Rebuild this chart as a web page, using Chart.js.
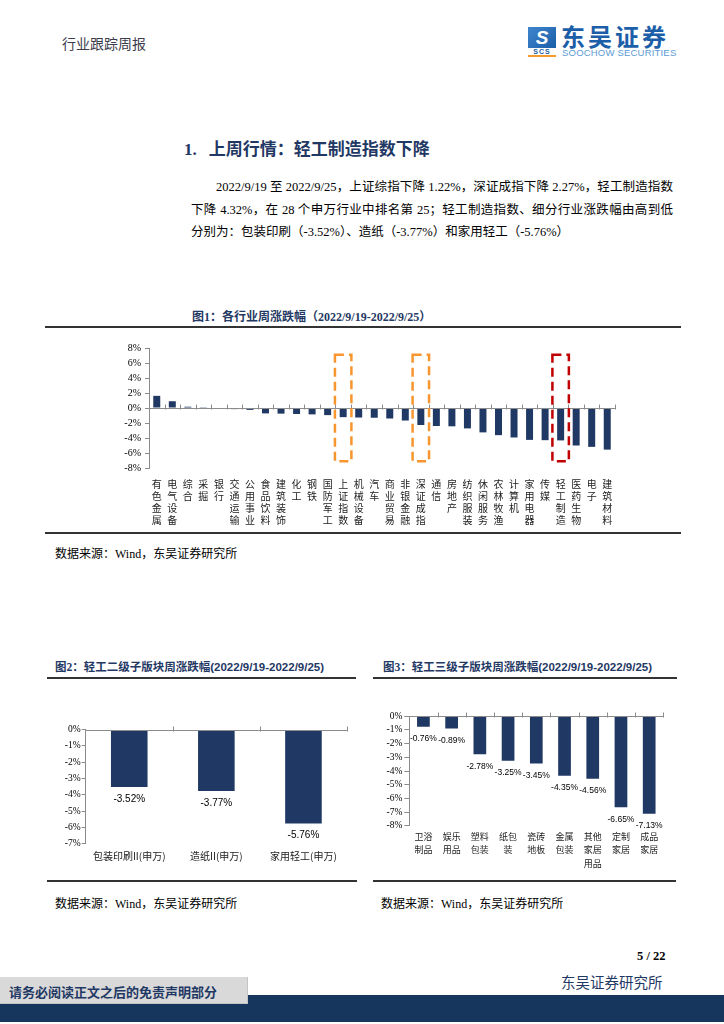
<!DOCTYPE html>
<html>
<head>
<meta charset="utf-8">
<script src="https://cdn.jsdelivr.net/npm/chart.js@4.4.0/dist/chart.umd.min.js"></script>
<style>
body { margin: 0; background: #fff; }
#page { position: relative; width: 724px; height: 1024px; overflow: hidden; font-family: "Liberation Serif", "Noto Sans CJK SC", serif; color: #000; }
.abs { position: absolute; white-space: nowrap; }
.rule { position: absolute; height: 2px; background: #333; }
.navy { color: #1f3864; }
.para { position: absolute; left: 191px; width: 482px; font-size: 12.5px; line-height: 22px; white-space: nowrap; }
.just { text-align: justify; text-align-last: justify; }
.figt { font-size: 12px; font-weight: bold; color: #1f3864; }
.src { font-size: 12px; }
canvas { position: absolute; }
</style>
</head>
<body>
<div id="page">
  <div class="abs" style="left:62px; top:33px; font-size:14px; color:#3c3c4c;">行业跟踪周报</div>

  <!-- logo -->
  <div class="abs" style="left:528px; top:27px; width:28px; height:21px; background:linear-gradient(135deg,#3f86cf,#1c5ea8); color:#fff; font:italic bold 19px 'Liberation Sans'; text-align:center; line-height:21px;">S</div>
  <div class="abs" style="left:528px; top:48px; width:28px; font:bold 7px 'Liberation Sans'; color:#1c5ea8; text-align:center; letter-spacing:1px;">SCS</div>
  <div class="abs" style="left:528px; top:55px; width:28px; height:2px; background:#f39a2b;"></div>
  <div class="abs" style="left:561px; top:22px; font-family:'Noto Sans CJK SC'; font-weight:bold; font-size:24px; letter-spacing:3px; color:#1c5ea8; line-height:27px;">东吴证券</div>
  <div class="abs" style="left:562px; top:47px; font-family:'Liberation Sans'; font-size:9.5px; color:#5b9bd5; letter-spacing:0.2px;">SOOCHOW SECURITIES</div>

  <!-- heading and text -->
  <div class="abs navy" style="left:184px; top:137px; font-size:17px; font-weight:bold; line-height:22px;"><span style="font-family:'Liberation Serif'">1.</span><span style="margin-left:12px; font-family:'Noto Sans CJK SC'">上周行情：轻工制造指数下降</span></div>
  <div class="para just" style="top:176px; text-indent:25px;">2022/9/19 至 2022/9/25，上证综指下降 1.22%，深证成指下降 2.27%，轻工制造指数</div>
  <div class="para just" style="top:199px;">下降 4.32%，在 28 个申万行业中排名第 25；轻工制造指数、细分行业涨跌幅由高到低</div>
  <div class="para" style="top:221px;">分别为：包装印刷（-3.52%）、造纸（-3.77%）和家用轻工（-5.76%）</div>

  <!-- figure 1 -->
  <div class="abs figt" style="left:192px; top:307px;">图1：各行业周涨跌幅（2022/9/19-2022/9/25）</div>
  <div class="rule" style="left:45px; top:326px; width:636px;"></div>
  <canvas id="chart1" width="525" height="196" style="left:100px; top:338px;"></canvas>
  <div class="rule" style="left:45px; top:532px; width:636px;"></div>
  <div class="abs src" style="left:55px; top:544px;">数据来源：Wind，东吴证券研究所</div>

  <!-- figure 2 and 3 -->
  <div class="abs figt" style="left:55px; top:658px; font-size:11.5px;">图2：轻工二级子版块周涨跌幅<span style="font-family:'Liberation Sans'">(2022/9/19-2022/9/25)</span></div>
  <div class="rule" style="left:47px; top:677px; width:309px;"></div>
  <div class="abs figt" style="left:383px; top:658px; font-size:11.5px;">图3：轻工三级子版块周涨跌幅<span style="font-family:'Liberation Sans'">(2022/9/19-2022/9/25)</span></div>
  <div class="rule" style="left:373px; top:677px; width:304px;"></div>

  <canvas id="chart2" width="310" height="160" style="left:45px; top:715px;"></canvas>
  <canvas id="chart3" width="305" height="175" style="left:370px; top:700px;"></canvas>

  <div class="rule" style="left:47px; top:880px; width:310px;"></div>
  <div class="rule" style="left:373px; top:880px; width:303px;"></div>
  <div class="abs src" style="left:55px; top:894px;">数据来源：Wind，东吴证券研究所</div>
  <div class="abs src" style="left:381px; top:894px;">数据来源：Wind，东吴证券研究所</div>

  <!-- footer -->
  <div class="abs" style="left:637px; top:949px; font-size:12.5px; font-weight:bold;">5 / 22</div>
  <div class="abs navy" style="left:561px; top:971px; font-size:14.5px;">东吴证券研究所</div>
  <div class="abs" style="left:0; top:995px; width:724px; height:27px; background:#17365d;"></div>
  <div class="abs" style="left:0; top:977px; width:247px; height:26px; background:#d9d9d9; border-right:1px solid #c4c4c4; border-bottom:1px solid #c4c4c4;"></div>
  <div class="abs navy" style="left:9px; top:982px; font-size:13px; font-weight:bold; font-family:'Noto Sans CJK SC';">请务必阅读正文之后的免责声明部分</div>
</div>

<script>
// Figure 1: weekly change by industry (%)
const industries = ['有色金属', '电气设备', '综合', '采掘', '银行', '交通运输', '公用事业', '食品饮料',
    '建筑装饰', '化工', '钢铁', '国防军工', '上证指数', '机械设备', '汽车', '商业贸易', '非银金融',
    '深证成指', '通信', '房地产', '纺织服装', '休闲服务', '农林牧渔', '计算机', '家用电器', '传媒',
    '轻工制造', '医药生物', '电子', '建筑材料'];
const industryChg = [1.62, 0.90, 0.17, 0.03, -0.10, -0.15, -0.25, -0.72, -0.75, -0.80, -0.85, -0.95,
    -1.22, -1.27, -1.30, -1.40, -1.67, -2.27, -2.40, -2.44, -2.72, -3.25, -3.62, -3.93, -4.25, -4.29,
    -4.32, -5.00, -5.18, -5.55];
const highlightCats = ['上证指数', '深证成指', '轻工制造'];
const highlightColors = ['#f7962e', '#f7962e', '#c00000'];
const highlightRange = [7.1, -7.1];

// Figure 2: level-2 sub-sectors (%)
const subSectors2 = ['包装印刷II(申万)', '造纸II(申万)', '家用轻工(申万)'];
const subChg2 = [-3.52, -3.77, -5.76];

// Figure 3: level-3 sub-sectors (%)
const subSectors3 = [['卫浴', '制品'], ['娱乐', '用品'], ['塑料', '包装'], ['纸包', '装'], ['瓷砖', '地板'],
    ['金属', '包装'], ['其他', '家居', '用品'], ['定制', '家居'], ['成品', '家居']];
const subChg3 = [-0.76, -0.89, -2.78, -3.25, -3.45, -4.35, -4.56, -6.65, -7.13];

const barColor = '#1f3864';
const axisColor = '#8c8c8c';
const serif = 'Liberation Serif';
const cjk = 'Noto Sans CJK SC';

// zero line with small marks at category boundaries
const zeroAxis = {
    id: 'zeroAxis',
    afterDatasetsDraw(chart, args, opts) {
        const { ctx, chartArea, scales: { x, y } } = chart;
        const y0 = Math.round(y.getPixelForValue(0)) + 0.5;
        const w = x.getPixelForValue(1) - x.getPixelForValue(0);
        const start = x.getPixelForValue(0) - w / 2;
        ctx.save();
        ctx.strokeStyle = axisColor;
        ctx.lineWidth = 1;
        ctx.beginPath();
        ctx.moveTo(chartArea.left, y0);
        ctx.lineTo(chartArea.right, y0);
        for (let i = 1; i <= x.ticks.length; i++) {
            const px = Math.round(start + i * w) + 0.5;
            ctx.moveTo(px, y0 + 1);
            ctx.lineTo(px, y0 - 4);
        }
        ctx.stroke();
        ctx.restore();
    }
};

// dashed highlight boxes
const boxes = {
    id: 'boxes',
    afterDatasetsDraw(chart, args, opts) {
        if (!opts.items) return;
        const { ctx, scales: { x, y } } = chart;
        const half = (x.getPixelForValue(1) - x.getPixelForValue(0)) * 0.53;
        const top = y.getPixelForValue(highlightRange[0]);
        const bottom = y.getPixelForValue(highlightRange[1]);
        ctx.save();
        ctx.lineWidth = 2.5;
        ctx.setLineDash([9, 5]);
        opts.items.forEach((name, i) => {
            const cx = x.getPixelForValue(industries.indexOf(name));
            ctx.strokeStyle = highlightColors[i];
            ctx.strokeRect(cx - half, top, half * 2, bottom - top);
        });
        ctx.restore();
    }
};

// value labels under the bars
const valueLabels = {
    id: 'valueLabels',
    afterDatasetsDraw(chart, args, opts) {
        if (!opts.size) return;
        const { ctx } = chart;
        const meta = chart.getDatasetMeta(0);
        const values = chart.data.datasets[0].data;
        ctx.save();
        ctx.font = opts.size + 'px "Liberation Sans"';
        ctx.fillStyle = '#000';
        ctx.textAlign = 'center';
        ctx.textBaseline = 'middle';
        meta.data.forEach((bar, i) => {
            ctx.fillText(values[i].toFixed(2) + '%', bar.x, bar.y + opts.offset);
        });
        ctx.restore();
    }
};

function yScale(min, max, width, fontSize, tickLen, pad) {
    return {
        min: min,
        max: max,
        ticks: { stepSize: max - min > 10 ? 2 : 1, autoSkip: false, callback: v => v + '%', font: { family: serif, size: fontSize }, color: '#000', padding: pad },
        grid: { drawOnChartArea: false, drawTicks: true, tickLength: tickLen, color: axisColor },
        border: { display: true, color: axisColor },
        afterFit: s => { s.width = width; }
    };
}

function xScale(height, fontSize, lineHeight, pad) {
    return {
        grid: { display: false, drawTicks: false },
        border: { display: false },
        ticks: { autoSkip: false, maxRotation: 0, minRotation: 0, font: { family: cjk, size: fontSize, lineHeight: lineHeight }, color: '#222', padding: pad },
        afterFit: s => { s.height = height; }
    };
}

function baseOptions(padding) {
    return {
        responsive: false,
        animation: false,
        layout: { padding: padding },
        plugins: { legend: { display: false }, tooltip: { enabled: false } }
    };
}

// Figure 1
const opt1 = baseOptions({ top: 8, right: 10, left: 0, bottom: 0 });
opt1.scales = { x: xScale(66, 10, 1.22, 10), y: yScale(-8, 8, 49, 10, 4, 4) };
opt1.plugins.boxes = { items: highlightCats };
new Chart(document.getElementById('chart1').getContext('2d'), {
    type: 'bar',
    data: {
        labels: industries.map(s => Array.from(s)),
        datasets: [{ data: industryChg, backgroundColor: barColor, barPercentage: 0.45, categoryPercentage: 1 }]
    },
    options: opt1,
    plugins: [zeroAxis, boxes]
});

// Figure 2
const opt2 = baseOptions({ top: 14.5, right: 8, left: 0, bottom: 0 });
opt2.scales = { x: xScale(31.3, 10, 1.2, 6.3), y: yScale(-7, 0, 40.7, 9.5, 4, 1) };
opt2.plugins.valueLabels = { size: 10, offset: 12 };
new Chart(document.getElementById('chart2').getContext('2d'), {
    type: 'bar',
    data: {
        labels: subSectors2,
        datasets: [{ data: subChg2, backgroundColor: barColor, barPercentage: 0.42, categoryPercentage: 1 }]
    },
    options: opt2,
    plugins: [zeroAxis, valueLabels]
});

// Figure 3
const opt3 = baseOptions({ top: 16.3, right: 11.7, left: 0, bottom: 0 });
opt3.scales = { x: xScale(49.3, 9, 1.5, 4), y: yScale(-8, 0, 39.3, 9.5, 5, 2) };
opt3.plugins.valueLabels = { size: 8.5, offset: 12 };
new Chart(document.getElementById('chart3').getContext('2d'), {
    type: 'bar',
    data: {
        labels: subSectors3,
        datasets: [{ data: subChg3, backgroundColor: barColor, barPercentage: 0.45, categoryPercentage: 1 }]
    },
    options: opt3,
    plugins: [zeroAxis, valueLabels]
});
</script>
</body>
</html>
